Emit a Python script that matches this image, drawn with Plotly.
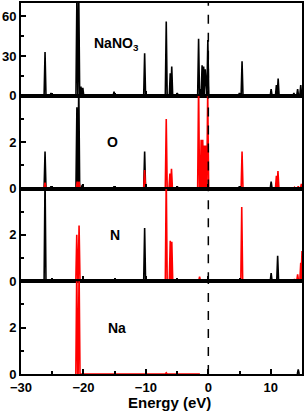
import plotly.graph_objects as go
from plotly.subplots import make_subplots

# ---- data: peak energies (eV) and heights (states/eV) ----
tot_e = [-26.15, -25.2, -21.05, -20.75, -20.4, -20.1, -15.1, -10.2, -6.74, -6.1, -5.86, -4.97,
         -1.56, -1.3, -1.0, -0.75, -0.5, -0.08, 4.97, 5.4, 10.06, 10.9, 11.18, 13.7, 14.3, 14.8]
tot_h = [33, 2, 75, 75, 7, 6, 3, 32, 56, 17, 22, 2,
         43, 5, 23, 22, 20, 42, 2, 26, 5, 8, 13, 2, 5, 8]

o_s_e = [-26.15, -25.2, -21.05, -20.9, -20.75, -20.2, -15.1, -10.2, -4.97, 4.97, 10.06]
o_s_h = [1.6, 0.1, 3.5, 2.2, 4.5, 0.15, 0.1, 1.6, 0.1, 0.1, 0.3]
o_p_e = [-26.15, -21.0, -20.7, -10.2, -6.74, -6.15, -5.9, -1.56, -1.15, -0.9, -0.65, -0.4, -0.1,
         5.4, 10.9, 11.15, 13.8, 14.4, 14.9]
o_p_h = [0.25, 0.3, 0.3, 0.8, 3.0, 0.65, 0.85, 4.5, 2.1, 2.1, 1.85, 1.85, 4.2,
         1.6, 0.55, 0.75, 0.05, 0.1, 0.2]

n_s_e = [-26.15, -10.2, -4.97, 10.06, 11.1]
n_s_h = [4.5, 2.3, 0.1, 0.35, 1.1]
n_p_e = [-21.07, -20.7, -6.74, -6.1, -5.85, -1.4, 5.35, 13.8, 14.3, 14.8, 15.0]
n_p_h = [2.0, 2.4, 4.5, 1.75, 1.7, 0.2, 3.2, 0.1, 0.3, 0.8, 1.3]

na_s_e = [14.4]
na_s_h = [0.2]
na_p_e = [-21.07, -20.7, -6.74, -1.5]
na_p_h = [4.5, 4.5, 0.05, 0.03]

panel_labels = ["NaNO<sub>3</sub>", "O", "N", "Na"]
x_ticks = [-30, -20, -10, 0, 10]
x_minor = [-25, -15, -5, 5]
x_title = "Energy (eV)"

HW = 0.15  # half-width of each drawn spike (style)


def spikes(es, hs):
    xs, ys = [], []
    for e, h in sorted(zip(es, hs)):
        xs += [e - HW, e, e + HW]
        ys += [0, h, 0]
    return xs, ys


fig = make_subplots(rows=4, cols=1, shared_xaxes=True, vertical_spacing=0)

panels = [
    [(tot_e, tot_h, "black")],
    [(o_s_e, o_s_h, "black"), (o_p_e, o_p_h, "red")],
    [(n_s_e, n_s_h, "black"), (n_p_e, n_p_h, "red")],
    [(na_s_e, na_s_h, "black"), (na_p_e, na_p_h, "red")],
]

for i, series in enumerate(panels, start=1):
    for es, hs, col in series:
        xs, ys = spikes(es, hs)
        fig.add_trace(go.Scatter(x=xs, y=ys, mode="lines",
                                 line=dict(color=col, width=1.6),
                                 showlegend=False, hoverinfo="skip"), row=i, col=1)

FAM = "Liberation Sans, Arial, sans-serif"
bold = dict(family=FAM, size=13, color="black", weight="bold")

for i in range(1, 5):
    fig.update_xaxes(range=[-30, 15], tickvals=x_ticks, ticks="inside", ticklen=5, tickwidth=1.5,
                     tickcolor="black", automargin=False,
                     minor=dict(tickvals=x_minor, ticks="inside", ticklen=3, tickwidth=1.5, tickcolor="black"),
                     showline=True, linecolor="black", linewidth=2, mirror=True,
                     showgrid=False, zeroline=False, tickfont=bold,
                     showticklabels=(i == 4), row=i, col=1)
    if i == 1:
        yr, yt, ym = [0, 70], [0, 30, 60], [15, 45]
    else:
        yr, yt, ym = [0, 4], [0, 2], [1, 3]
    fig.update_yaxes(range=yr, tickvals=yt, ticks="inside", ticklen=5, tickwidth=1.5, tickcolor="black",
                     automargin=False,
                     minor=dict(tickvals=ym, ticks="inside", ticklen=3, tickwidth=1.5, tickcolor="black"),
                     showline=True, linecolor="black", linewidth=2, mirror=True,
                     showgrid=False, zeroline=False, tickfont=bold, row=i, col=1)
    fig.add_vline(x=0, line=dict(color="black", width=1.5, dash="dash"), row=i, col=1)

label_y = [39, 2.0, 2.0, 2.0]
label_x = [-14.7, -15.4, -15.0, -14.7]
for i in range(4):
    fig.add_annotation(x=label_x[i], y=label_y[i], xref=f"x{'' if i == 0 else i + 1}",
                       yref=f"y{'' if i == 0 else i + 1}", text=panel_labels[i], showarrow=False,
                       font=dict(family=FAM, size=14, color="black", weight="bold"))

fig.add_annotation(x=0.53, xref="paper", y=-28 / (415 - 3 - 41), yref="paper", text=x_title,
                   showarrow=False, xanchor="center", yanchor="middle",
                   font=dict(family=FAM, size=15, color="black", weight="bold"))

fig.update_layout(width=305, height=415, margin=dict(l=21, r=3, t=3, b=41),
                  paper_bgcolor="white", plot_bgcolor="white")

fig.write_html("out.html", config={"displayModeBar": False},
               post_script="document.body.style.margin='0';document.body.style.padding='0';")
